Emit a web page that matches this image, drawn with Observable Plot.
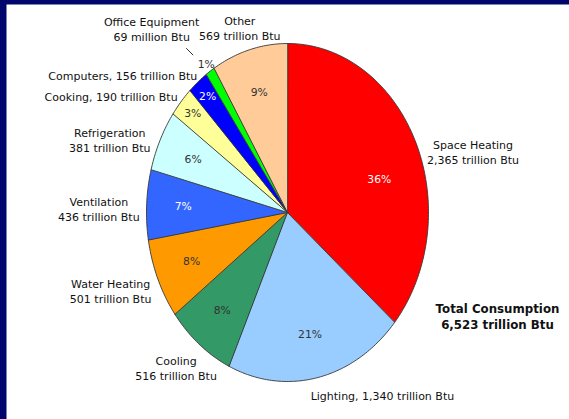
<!DOCTYPE html>
<html><head><meta charset="utf-8">
<script src="https://cdn.jsdelivr.net/npm/d3@7"></script>
<script src="https://cdn.jsdelivr.net/npm/@observablehq/plot@0.6"></script>
<style>html,body{margin:0;padding:0;background:#00066b;overflow:hidden;}</style>
</head><body><div id="chart"></div>
<script>
// ---- data ----
const categories = ["Space Heating","Lighting","Cooling","Water Heating","Ventilation","Refrigeration","Cooking","Computers","Office Equipment","Other"];
const consumption = [2365,1340,516,501,436,381,190,156,69,569]; // trillion Btu
const labelTexts = ["Space Heating\n2,365 trillion Btu","Lighting, 1,340 trillion Btu","Cooling\n516 trillion Btu","Water Heating\n501 trillion Btu","Ventilation\n436 trillion Btu","Refrigeration\n381 trillion Btu","Cooking, 190 trillion Btu","Computers, 156 trillion Btu","Office Equipment\n69 million Btu","Other\n569 trillion Btu"];
const totalLabel = "Total Consumption\n6,523 trillion Btu";
// ---- styles ----
const sliceColors = ["#ff0000","#99ccff","#339966","#ff9900","#3366ff","#ccffff","#ffff99","#0000ff","#00ff00","#ffcc99"];
const pctColors = ["#ffffff","#333333","#333333","#333333","#ffffff","#333333","#333333","#ffffff","#333333","#333333"];
const labelNudge = {"Space Heating":[5,20],"Lighting":[38,2],"Cooling":[22,5],"Water Heating":[0,2],"Other":[10,1],"Computers":[4,5],"Cooking":[2,5],"Refrigeration":[-3,9],"Ventilation":[0,5],"Office Equipment":[2,4]};
const pctNudge = {"Space Heating":[-3,19]};

const W = 569, H = 419;
const cx = 287, cy = 212, rx = 141, ry = 169;
const font = "DejaVu Sans";
const fs = 11, lh = 1.38;

const total = d3.sum(consumption);
let acc = 0;
const slices = categories.map((name, i) => {
  const a0 = acc / total * 2 * Math.PI; acc += consumption[i];
  const a1 = acc / total * 2 * Math.PI;
  return {name, i, value: consumption[i], a0, a1, mid: (a0 + a1) / 2, pct: consumption[i] / total * 100};
});
const ux = (r, a) => r * Math.sin(a), uy = (r, a) => r * Math.cos(a);

// arc outlines derived from data angles
const arcPts = slices.flatMap(s => {
  const n = Math.max(2, Math.ceil((s.a1 - s.a0) / (Math.PI / 180)));
  const pts = [{name: s.name, x: 0, y: 0, color: sliceColors[s.i]}];
  for (let k = 0; k <= n; k++) {
    const a = s.a0 + (s.a1 - s.a0) * k / n;
    pts.push({name: s.name, x: ux(1, a), y: uy(1, a), color: sliceColors[s.i]});
  }
  return pts;
});

// percent labels
const pctR = s => s.pct >= 5 ? 0.74 : s.pct >= 1.5 ? 0.89 : 1.05;
const pctPos = slices.map(s => {
  const nd = pctNudge[s.name] || [0, 0];
  return {
    x: ux(pctR(s), s.mid) + nd[0] / rx,
    y: uy(pctR(s), s.mid) - nd[1] / ry,
    text: Math.round(s.pct) + "%",
    color: pctColors[s.i]
  };
});

// outer labels: measured text placed outward from mid-angle
const ctx = document.createElement("canvas").getContext("2d");
ctx.font = `${fs}px "${font}"`;
const leader = s => s.pct < 1.5;
const outer = slices.map(s => {
  const lines = labelTexts[s.i].split("\n");
  const w = d3.max(lines, l => ctx.measureText(l).width);
  const h = lines.length * fs * lh;
  const r = leader(s) ? 1.24 : 1.05;
  const px = cx + rx * ux(r, s.mid), py = cy - ry * uy(r, s.mid);
  const sx = Math.max(-1, Math.min(1, 1.6 * Math.sin(s.mid)));
  const nd = labelNudge[s.name] || [0, 0];
  const qx = px + sx * w / 2 + nd[0];
  const qy = py - Math.cos(s.mid) * h / 2 + nd[1];
  return {text: labelTexts[s.i], x: (qx - cx) / rx, y: (cy - qy) / ry};
});
// leader from the small slice's percent label up-left towards its text
const leaders = slices.filter(leader).map(s => {
  const r = pctR(s);
  const bx = ux(r, s.mid), by = uy(r, s.mid);
  return {x1: bx - 13 / rx, y1: by + 9 / ry, x2: bx - 20 / rx, y2: by + 16 / ry};
});

const chart = Plot.plot({
  width: W, height: H,
  marginTop: 4, marginLeft: 6, marginRight: 0, marginBottom: 0,
  style: {background: "#00066b", fontFamily: font},
  x: {domain: [-1, 1], range: [cx - rx, cx + rx], axis: null},
  y: {domain: [-1, 1], range: [cy + ry, cy - ry], axis: null},
  color: {type: "identity"},
  marks: [
    Plot.frame({fill: "white", stroke: "none"}),
    Plot.line(arcPts, {x: "x", y: "y", z: "name", fill: "color", stroke: "#383838", strokeWidth: 0.9, curve: "linear-closed", strokeLinejoin: "round"}),
    Plot.text(pctPos, {x: "x", y: "y", text: "text", fill: "color", fontSize: 10.8}),
    Plot.link(leaders, {x1: "x1", y1: "y1", x2: "x2", y2: "y2", stroke: "#333", strokeWidth: 1}),
    Plot.text(outer, {x: "x", y: "y", text: "text", fill: "#111", fontSize: fs, lineHeight: lh, lineAnchor: "middle", textAnchor: "middle"}),
    Plot.text([totalLabel], {frameAnchor: "top-left", dx: 497 - 6, dy: 315 - 4, text: d => d, fontSize: 11.8, fontWeight: "bold", fill: "#111", lineHeight: 1.4, lineAnchor: "middle", textAnchor: "middle"})
  ]
});
document.getElementById("chart").appendChild(chart);
</script>
</body></html>
